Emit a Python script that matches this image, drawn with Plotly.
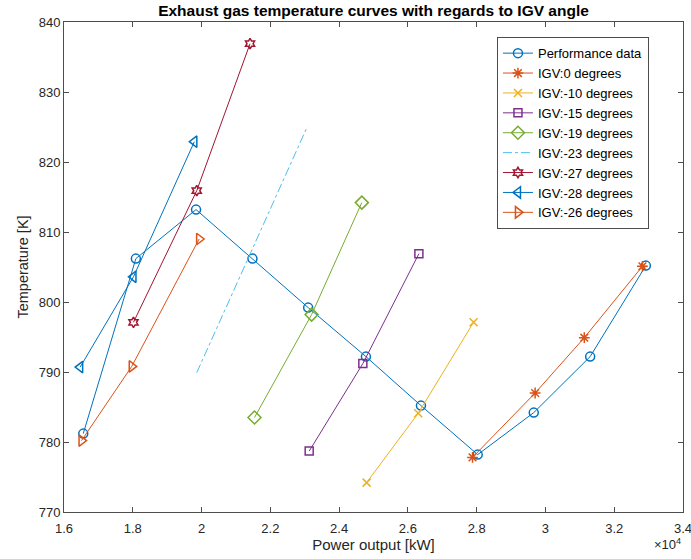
import plotly.graph_objects as go

# Data
perf_x = [16560, 18090, 19840, 21480, 23100, 24780, 26380, 28030, 29660, 31300, 32920]
perf_y = [781.2, 806.2, 813.2, 806.2, 799.2, 792.2, 785.2, 778.2, 784.2, 792.2, 805.2]

igv0_x = [27880, 29700, 31130, 32820]
igv0_y = [777.8, 787.0, 794.9, 805.1]

igv10_x = [24800, 26300, 27910]
igv10_y = [774.2, 784.1, 797.1]

igv15_x = [23130, 24690, 26320]
igv15_y = [778.7, 791.2, 806.9]

igv19_x = [21540, 23200, 24660]
igv19_y = [783.5, 798.2, 814.2]

igv23_x = [19860, 23080]
igv23_y = [789.9, 825.1]

igv27_x = [18020, 19860, 21410]
igv27_y = [797.1, 815.9, 836.9]

igv28_x = [16470, 18020, 19790]
igv28_y = [790.7, 803.6, 822.9]

igv26_x = [16510, 17970, 19930]
igv26_y = [780.2, 790.8, 809.0]

x_tickvals = [16000, 18000, 20000, 22000, 24000, 26000, 28000, 30000, 32000, 34000]
x_ticktext = ["1.6", "1.8", "2", "2.2", "2.4", "2.6", "2.8", "3", "3.2", "3.4"]
y_tickvals = [770, 780, 790, 800, 810, 820, 830, 840]

series = [
    ("Performance data", perf_x, perf_y, "#0072BD", "circle-open", "solid", 9),
    ("IGV:0 degrees", igv0_x, igv0_y, "#D95319", "asterisk-open", "solid", 9),
    ("IGV:-10 degrees", igv10_x, igv10_y, "#EDB120", "x-thin-open", "solid", 8),
    ("IGV:-15 degrees", igv15_x, igv15_y, "#7E2F8E", "square-open", "solid", 8),
    ("IGV:-19 degrees", igv19_x, igv19_y, "#77AC30", "diamond-open", "solid", 10),
    ("IGV:-23 degrees", igv23_x, igv23_y, "#4DBEEE", None, "dashdot", 0),
    ("IGV:-27 degrees", igv27_x, igv27_y, "#A2142F", "hexagram-open", "solid", 8),
    ("IGV:-28 degrees", igv28_x, igv28_y, "#0072BD", "triangle-left-open", "solid", 10),
    ("IGV:-26 degrees", igv26_x, igv26_y, "#D95319", "triangle-right-open", "solid", 10),
]

fig = go.Figure()
for name, xs, ys, col, sym, dash, ms in series:
    if sym is None:
        fig.add_trace(go.Scatter(x=xs, y=ys, name=name, mode="lines",
                                 line=dict(color=col, width=1, dash=dash)))
    else:
        fig.add_trace(go.Scatter(x=xs, y=ys, name=name, mode="lines+markers",
                                 line=dict(color=col, width=1, dash=dash),
                                 marker=dict(symbol=sym, size=ms, color=col,
                                             line=dict(color=col, width=1.5))))

axis_common = dict(showline=True, linecolor="#4d4d4d", linewidth=1, mirror="ticks",
                   ticks="inside", ticklen=5, tickcolor="#4d4d4d", showgrid=False,
                   zeroline=False, tickfont=dict(size=13, color="#262626"),
                   ticklabeloverflow="allow", automargin=False)

fig.update_layout(
    width=691, height=559,
    margin=dict(l=64, r=8, t=22, b=47),
    paper_bgcolor="white", plot_bgcolor="white",
    font=dict(family="Liberation Sans, Arial, sans-serif", size=13, color="#262626"),
    title=dict(text="<b>Exhaust gas temperature curves with regards to IGV angle</b>",
               x=(64 + 619 / 2) / 691, xanchor="center", y=1 - 11 / 559, yanchor="middle",
               font=dict(size=15.5, color="#000000")),
    xaxis=dict(range=[16000, 34000], tickvals=x_tickvals, ticktext=x_ticktext,
               ticklabelstandoff=4,
               title=dict(text="Power output [kW]", font=dict(size=15), standoff=2),
               **axis_common),
    yaxis=dict(range=[770, 840], tickvals=y_tickvals,
               title=dict(text="Temperature [K]", font=dict(size=14.5), standoff=6),
               **axis_common),
    legend=dict(x=0.945, y=0.969, xanchor="right", yanchor="top",
                bgcolor="white", bordercolor="#4d4d4d", borderwidth=1,
                font=dict(size=13, color="#000000"), tracegroupgap=0,
                itemwidth=30),
    showlegend=True,
)

fig.add_annotation(text="×10<sup>4</sup>", xref="paper", yref="paper",
                   x=1.0, y=-0.045, xanchor="right", yanchor="top", showarrow=False,
                   font=dict(size=13, color="#262626"))

fig.write_html("out.html")
